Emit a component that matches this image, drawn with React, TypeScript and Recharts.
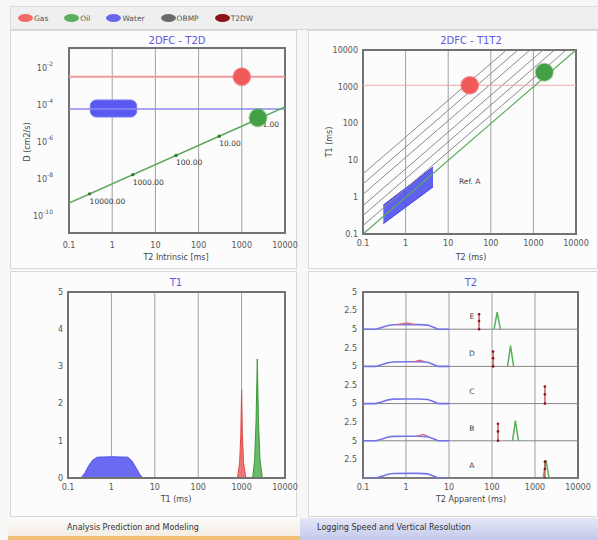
import React from "react";
import {
  ComposedChart,
  Line,
  Area,
  Scatter,
  XAxis,
  YAxis,
  CartesianGrid,
  ReferenceArea,
  ReferenceLine,
} from "recharts";

const FONT = "'DejaVu Sans', Verdana, sans-serif";
const TICK_FILL = "#555";
const GRID = "#a0a0a0";
const FRAME = "#727272";

// axis ticks
const LOG_TICKS = [0.1, 1, 10, 100, 1000, 10000];
const D_TICKS = [1e-10, 1e-8, 1e-6, 1e-4, 1e-2];
const AMP_TICKS = [0, 1, 2, 3, 4, 5];
const TRACK_TICKS = [0, 2.5, 5, 7.5, 10, 12.5, 15, 17.5, 20, 22.5, 25];

const legendNames = ["Gas", "Oil", "Water", "OBMP", "T2DW"];
const legendColors = ["#f26a6a", "#5cae5c", "#6767ee", "#6b6b6b", "#8c1118"];

// 2DFC - T2D
const gasLevelD = [
  { t2: 0.1, d: 2.8e-3 },
  { t2: 10000, d: 2.8e-3 },
];
const waterLevelD = [
  { t2: 0.1, d: 5e-5 },
  { t2: 10000, d: 5e-5 },
];
const oilTrendD = [
  { t2: 0.1, d: 4.2e-10 },
  { t2: 10000, d: 6.5e-5 },
];
const viscosityT2 = [0.3, 3, 30, 300, 3000];
const viscosityD = [1.31e-9, 1.43e-8, 1.56e-7, 1.71e-6, 1.86e-5];
const viscosityLabels = ["10000.00", "1000.00", "100.00", "10.00", "1.00"];
const gasSpotD = [{ t2: 1000, d: 2.8e-3 }];
const oilSpotD = [{ t2: 2370, d: 1.7e-5 }];
const waterBoxT2 = [0.31, 3.7];
const waterBoxD = [1.86e-5, 1.55e-4];

// 2DFC - T1T2
const ratioLines = [1.7, 3.2, 5.9, 12, 23, 43];
const oilTrendT1 = [
  { t2: 0.1, t1: 0.1 },
  { t2: 10000, t1: 10000 },
];
const gasLevelT1 = [
  { t2: 0.1, t1: 1100 },
  { t2: 10000, t1: 1100 },
];
const gasSpotT1 = [{ t2: 32, t1: 1100 }];
const oilSpotT1 = [{ t2: 1800, t1: 2500 }];
const waterBandT1 = [
  { t2: 0.3, t1: [0.19, 0.61] },
  { t2: 4.4, t1: [1.9, 6.6] },
];
const refNote = [{ t2: 32, t1: 2.6, text: "Ref. A" }];

// T1 distribution
const waterT1 = [0.2, 0.25, 0.3, 0.37, 0.47, 1, 2.4, 3, 3.8, 4.6, 5.4];
const waterT1Amp = [0, 0.15, 0.33, 0.48, 0.56, 0.57, 0.56, 0.45, 0.25, 0.08, 0];
const gasT1 = [800, 900, 960, 1000, 1040, 1110, 1250];
const gasT1Amp = [0, 0.4, 1.2, 2.37, 1.2, 0.4, 0];
const oilT1 = [1800, 2000, 2150, 2300, 2450, 2650, 3000];
const oilT1Amp = [0, 0.5, 1.5, 3.2, 1.5, 0.5, 0];

// T2 apparent, one track per station
const trackNames = ["E", "D", "C", "B", "A"];
const trackBase = [20, 15, 10, 5, 0];
const waterT2 = [0.1, 0.2, 0.28, 0.38, 0.5, 1, 2, 3.2, 4.2, 5.6, 10];
const waterT2Amp = [0, 0, 0.25, 0.5, 0.6, 0.62, 0.62, 0.55, 0.3, 0, 0];
const gasBumpT2 = [[0.6, 1.1, 1.6], [1.5, 2.1, 2.8], [], [1.8, 2.5, 3.2], []];
const gasBumpAmp = [0.62, 0.85, 0.62];
const oilPeakT2 = [[112, 132, 156], [230, 270, 318], [], [300, 350, 412], [1550, 1800, 2120]];
const oilPeakAmp = [2.3, 2.8, 0, 2.7, 2.4];
const t2dwT2 = [50, 106, 1700, 138, 1700];
const t2dwAmp = [2.0, 2.0, 2.3, 2.3, 2.2];
const letterT2 = 34;
const letterAmp = 1.7;

const viscosityMarks = viscosityT2.map((t2, i) => ({ t2, d: viscosityD[i], label: viscosityLabels[i] }));
const ratioData = ratioLines.map((r) => [
  { t2: 0.1, t1: 0.1 * r },
  { t2: 10000, t1: 10000 * r },
]);
const waterT1Data = waterT1.map((t1, i) => ({ t1, a: waterT1Amp[i] }));
const gasT1Data = gasT1.map((t1, i) => ({ t1, a: gasT1Amp[i] }));
const oilT1Data = oilT1.map((t1, i) => ({ t1, a: oilT1Amp[i] }));

const tracks = trackNames.map((name, i) => {
  const base = trackBase[i];
  return {
    name,
    water: waterT2.map((t2, j) => ({ t2, v: base + waterT2Amp[j] })),
    gas: gasBumpT2[i].map((t2, j) => ({ t2, v: base + gasBumpAmp[j] })),
    oil: oilPeakT2[i].map((t2, j) => ({ t2, v: base + (j === 1 ? oilPeakAmp[i] : 0) })),
    t2dw: [
      { t2: t2dwT2[i], v: base },
      { t2: t2dwT2[i], v: base + t2dwAmp[i] * 0.55 },
      { t2: t2dwT2[i], v: base + t2dwAmp[i] },
    ],
    letter: [{ t2: letterT2, v: base + letterAmp, text: name }],
  };
});

const XTick = ({ x, y, payload }: any) => (
  <text x={x} y={y} dy="0.71em" textAnchor="middle" fontSize={8} fill={TICK_FILL} fontFamily={FONT}>
    {payload.value}
  </text>
);

const YTick = ({ x, y, payload, tickFormatter }: any) => (
  <text x={x} y={y} dy="0.34em" textAnchor="end" fontSize={8} fill={TICK_FILL} fontFamily={FONT}>
    {tickFormatter ? tickFormatter(payload.value) : payload.value}
  </text>
);

const PowerTick = ({ x, y, payload }: any) => {
  const exp = Math.round(Math.log10(payload.value));
  return (
    <text x={x} y={y} textAnchor="end" fontSize={8} fill={TICK_FILL} fontFamily={FONT}>
      <tspan dy={4}>10</tspan>
      <tspan dy={-5} fontSize={6}>
        {exp}
      </tspan>
    </text>
  );
};

const spot = (color: string) => (p: any) =>
  <circle cx={p.cx} cy={p.cy} r={8.5} fill={color} stroke={color} strokeOpacity={0.5} strokeWidth={2} />;

const textAt = (p: any) => (
  <text x={p.cx} y={p.cy} dy="0.34em" textAnchor="middle" fontSize={7.5} fill="#444" fontFamily={FONT}>
    {p.payload.text}
  </text>
);

const roundBox = (p: any) => (
  <rect x={p.x} y={p.y} width={p.width} height={p.height} rx={6} ry={6} fill="#5a5af2" stroke="#7c7cf6" />
);

const Title = ({ x, y, children, color = "#5b5be0", size = 10, rotate = false }: any) => (
  <div
    style={{
      position: "absolute",
      left: x,
      top: y,
      transform: `translate(-50%, -50%)${rotate ? " rotate(-90deg)" : ""}`,
      whiteSpace: "nowrap",
      fontSize: size,
      color,
      lineHeight: 1,
    }}
  >
    {children}
  </div>
);

const Panel = ({ left, top, width, height }: any) => (
  <div
    style={{
      position: "absolute",
      left,
      top,
      width,
      height,
      boxSizing: "border-box",
      border: "1px solid #d8d8d8",
      background: "#fcfcfc",
    }}
  />
);

function T2DChart() {
  return (
    <ComposedChart width={292} height={240} margin={{ top: 20, right: 15, left: 0, bottom: 0 }}>
      <CartesianGrid horizontal={false} stroke={GRID} />
      <XAxis dataKey="t2" type="number" scale="log" domain={[0.1, 10000]} ticks={LOG_TICKS} interval={0} allowDataOverflow
        axisLine={false} tickLine={false} tickSize={0} tickMargin={9} height={35} tick={<XTick />} />
      <YAxis dataKey="d" type="number" scale="log" domain={[1e-11, 1e-1]} ticks={D_TICKS} interval={0} allowDataOverflow
        axisLine={false} tickLine={false} tickSize={0} tickMargin={16} width={61} tick={<PowerTick />} />
      <Line data={gasLevelD} dataKey="d" stroke="#f29a9a" strokeWidth={2} dot={false} activeDot={false} isAnimationActive={false} />
      <Line data={waterLevelD} dataKey="d" stroke="#8a8af0" strokeWidth={1.6} dot={false} activeDot={false} isAnimationActive={false} />
      <Line data={oilTrendD} dataKey="d" stroke="#5aa85a" strokeWidth={1.5} dot={false} activeDot={false} isAnimationActive={false} />
      <ReferenceArea x1={waterBoxT2[0]} x2={waterBoxT2[1]} y1={waterBoxD[0]} y2={waterBoxD[1]} shape={roundBox} />
      <Scatter
        data={viscosityMarks}
        dataKey="d"
        isAnimationActive={false}
        shape={(p: any) => (
          <g>
            <circle cx={p.cx} cy={p.cy} r={1.7} fill="#2d7a2d" />
            <text x={p.cx} y={p.cy + 10} fontSize={7.5} fill="#333" fontFamily={FONT}>
              {p.payload.label}
            </text>
          </g>
        )}
      />
      <Scatter data={gasSpotD} dataKey="d" isAnimationActive={false} shape={spot("#f25a5a")} />
      <Scatter data={oilSpotD} dataKey="d" isAnimationActive={false} shape={spot("#44a044")} />
      <ReferenceArea x1={0.1} x2={10000} y1={1e-11} y2={1e-1} fill="none" stroke={FRAME} strokeWidth={2} />
    </ComposedChart>
  );
}

function T1T2Chart() {
  return (
    <ComposedChart width={290} height={240} margin={{ top: 22, right: 19, left: 0, bottom: 0 }}>
      <CartesianGrid horizontal={false} stroke={GRID} />
      <XAxis dataKey="t2" type="number" scale="log" domain={[0.1, 10000]} ticks={LOG_TICKS} interval={0} allowDataOverflow
        axisLine={false} tickLine={false} tickSize={0} tickMargin={6} height={34} tick={<XTick />} />
      <YAxis dataKey="t1" type="number" scale="log" domain={[0.1, 10000]} ticks={LOG_TICKS} interval={0} allowDataOverflow
        axisLine={false} tickLine={false} tickSize={0} tickMargin={5} width={58} tick={<YTick />} />
      {ratioData.map((d, i) => (
        <Line key={i} data={d} dataKey="t1" stroke="#8a8a8a" strokeWidth={1} dot={false} activeDot={false} isAnimationActive={false} />
      ))}
      <Line data={gasLevelT1} dataKey="t1" stroke="#f0a8a8" strokeWidth={1} dot={false} activeDot={false} isAnimationActive={false} />
      <Line data={oilTrendT1} dataKey="t1" stroke="#5aaa5a" strokeWidth={1.3} dot={false} activeDot={false} isAnimationActive={false} />
      <Area data={waterBandT1} dataKey="t1" fill="#5050ee" fillOpacity={0.9} stroke="#4444e4" isAnimationActive={false} />
      <Scatter data={refNote} dataKey="t1" isAnimationActive={false} shape={textAt} />
      <Scatter data={gasSpotT1} dataKey="t1" isAnimationActive={false} shape={spot("#f25a5a")} />
      <Scatter data={oilSpotT1} dataKey="t1" isAnimationActive={false} shape={spot("#44a044")} />
      <ReferenceArea x1={0.1} x2={10000} y1={0.1} y2={10000} fill="none" stroke={FRAME} strokeWidth={2} />
    </ComposedChart>
  );
}

function T1Chart() {
  return (
    <ComposedChart width={292} height={240} margin={{ top: 20, right: 15, left: 0, bottom: 0 }}>
      <CartesianGrid horizontal={false} stroke={GRID} />
      <XAxis dataKey="t1" type="number" scale="log" domain={[0.1, 10000]} ticks={LOG_TICKS} interval={0} allowDataOverflow
        axisLine={false} tickLine={false} tickSize={0} tickMargin={6} height={34} tick={<XTick />} />
      <YAxis type="number" domain={[0, 5]} ticks={AMP_TICKS} interval={0} allowDataOverflow
        axisLine={false} tickLine={false} tickSize={0} tickMargin={5} width={60} tick={<YTick />} />
      <Area data={waterT1Data} dataKey="a" fill="#6a6af2" fillOpacity={1} stroke="#4f4fe6" strokeWidth={1} isAnimationActive={false} />
      <Area data={gasT1Data} dataKey="a" fill="#f06262" fillOpacity={0.85} stroke="#e04848" strokeWidth={1} isAnimationActive={false} />
      <Area data={oilT1Data} dataKey="a" fill="#4fae4f" fillOpacity={0.85} stroke="#3a983a" strokeWidth={1} isAnimationActive={false} />
      <ReferenceArea x1={0.1} x2={10000} y1={0} y2={5} fill="none" stroke={FRAME} strokeWidth={2} />
    </ComposedChart>
  );
}

function T2Chart() {
  const trackTick = (v: number) => (v === 0 ? "" : v % 5 === 0 ? "5" : "2.5");
  return (
    <ComposedChart width={290} height={240} margin={{ top: 20, right: 17, left: 0, bottom: 0 }}>
      <CartesianGrid horizontal={false} stroke={GRID} />
      <XAxis dataKey="t2" type="number" scale="log" domain={[0.1, 10000]} ticks={LOG_TICKS} interval={0} allowDataOverflow
        axisLine={false} tickLine={false} tickSize={0} tickMargin={6} height={34} tick={<XTick />} />
      <YAxis type="number" domain={[0, 25]} ticks={TRACK_TICKS} interval={0} allowDataOverflow
        axisLine={false} tickLine={false} tickSize={0} tickMargin={6} width={58} tickFormatter={trackTick} tick={<YTick />} />
      {trackBase.map((b) => (
        <ReferenceLine key={b} y={b} stroke="#858585" strokeWidth={1} />
      ))}
      {tracks.map((t) => (
        <Line key={`w${t.name}`} data={t.water} dataKey="v" stroke="#7474e8" strokeWidth={1.6} dot={false} activeDot={false} isAnimationActive={false} />
      ))}
      {tracks.map((t) => (
        <Line key={`g${t.name}`} data={t.gas} dataKey="v" stroke="#e06a7a" strokeWidth={1.2} dot={false} activeDot={false} isAnimationActive={false} />
      ))}
      {tracks.map((t) => (
        <Line key={`o${t.name}`} data={t.oil} dataKey="v" stroke="#58b058" strokeWidth={1.5} dot={false} activeDot={false} isAnimationActive={false} />
      ))}
      {tracks.map((t) => (
        <Line key={`d${t.name}`} data={t.t2dw} dataKey="v" stroke="#c04a5a" strokeWidth={1.3}
          dot={{ r: 1.3, fill: "#8c1118", stroke: "none" }} activeDot={false} isAnimationActive={false} />
      ))}
      {tracks.map((t) => (
        <Scatter key={`l${t.name}`} data={t.letter} dataKey="v" isAnimationActive={false} shape={textAt} />
      ))}
      <ReferenceArea x1={0.1} x2={10000} y1={0} y2={25} fill="none" stroke={FRAME} strokeWidth={2} />
    </ComposedChart>
  );
}

export default function App() {
  return (
    <div
      style={{
        position: "absolute",
        left: 0,
        top: 0,
        width: 598,
        height: 540,
        overflow: "hidden",
        background: "#f7f7f7",
        fontFamily: FONT,
      }}
    >
      {/* legend strip */}
      <div
        style={{
          position: "absolute",
          left: 10,
          top: 6,
          width: 588,
          height: 24,
          boxSizing: "border-box",
          background: "#efefef",
          borderTop: "1px solid #dcdcdc",
          borderLeft: "1px solid #dcdcdc",
          borderBottom: "1px solid #d4d4d4",
          display: "flex",
          alignItems: "center",
          gap: 16,
          paddingLeft: 7,
        }}
      >
        {legendNames.map((n, i) => (
          <div key={n} style={{ display: "flex", alignItems: "center", gap: 1 }}>
            <span style={{ display: "inline-block", width: 15, height: 8, borderRadius: "50%", background: legendColors[i] }} />
            <span style={{ fontSize: 7.5, color: "#555" }}>{n}</span>
          </div>
        ))}
      </div>

      <Panel left={10} top={30} width={287} height={239} />
      <Panel left={308} top={30} width={290} height={239} />
      <Panel left={10} top={271} width={287} height={246} />
      <Panel left={308} top={271} width={290} height={246} />

      <div style={{ position: "absolute", left: 8, top: 28 }}>
        <T2DChart />
      </div>
      <div style={{ position: "absolute", left: 305, top: 28 }}>
        <T1T2Chart />
      </div>
      <div style={{ position: "absolute", left: 8, top: 272 }}>
        <T1Chart />
      </div>
      <div style={{ position: "absolute", left: 305, top: 272 }}>
        <T2Chart />
      </div>

      <Title x={177} y={41}>2DFC - T2D</Title>
      <Title x={471} y={41}>2DFC - T1T2</Title>
      <Title x={176} y={283}>T1</Title>
      <Title x={471} y={283}>T2</Title>

      <Title x={28} y={142} size={8} color="#444" rotate>D (cm2/s)</Title>
      <Title x={330} y={142} size={8} color="#444" rotate>T1 (ms)</Title>
      <Title x={176} y={258} size={8} color="#444">T2 Intrinsic [ms]</Title>
      <Title x={471} y={258} size={8} color="#444">T2 (ms)</Title>
      <Title x={176} y={500} size={8} color="#444">T1 (ms)</Title>
      <Title x={471} y={500} size={8} color="#444">T2 Apparent (ms)</Title>

      {/* bottom tabs */}
      <div
        style={{
          position: "absolute",
          left: 8,
          top: 518,
          width: 292,
          height: 22,
          boxSizing: "border-box",
          background: "linear-gradient(#fbfbfb, #f3ece0)",
          borderBottom: "4px solid #f1bd72",
        }}
      />
      <div
        style={{
          position: "absolute",
          left: 300,
          top: 518,
          width: 298,
          height: 22,
          background: "linear-gradient(#e4e7f7, #c3c9ec)",
        }}
      />
      <Title x={133} y={528} size={8} color="#333">Analysis Prediction and Modeling</Title>
      <Title x={394} y={528} size={8} color="#333">Logging Speed and Vertical Resolution</Title>
    </div>
  );
}
